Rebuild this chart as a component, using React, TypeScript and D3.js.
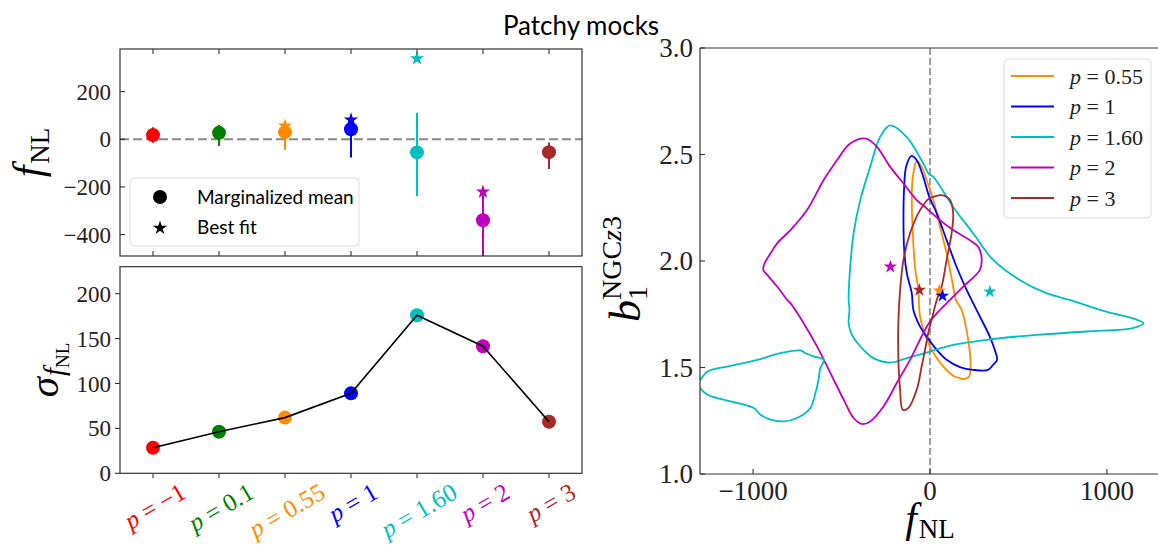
import React from 'react';
import * as d3 from 'd3';

// ---------- data ----------
const categories = ['−1', '0.1', '0.55', '1', '1.60', '2', '3'];
const catColors = ['#ff0000', '#008000', '#ff8c00', '#0000ff', '#00bfbf', '#bf00bf', '#a52a2a'];
const meanFNL = [18, 27, 30, 42, -55, -340, -54];
const bestFitFNL = [17, 27, 56, 82, 339, -221, -54];
const errLow = [-15, -28, -45, -76, -238, -495, -125];
const errHigh = [50, 61, 77, 100, 111, -207, -14];
const sigmaFNL = [28.5, 46.3, 62, 89, 176, 141.5, 57.4];

const topYTicks = [-400, -200, 0, 200];
const bottomYTicks = [0, 50, 100, 150, 200];
const rightXTicks = [-1000, 0, 1000];
const rightYTicks = [1.0, 1.5, 2.0, 2.5, 3.0];

const contourLabels = ['0.55', '1', '1.60', '2', '3'];
const contourColors = ['#ff8c00', '#0000ff', '#00bfbf', '#bf00bf', '#a52a2a'];

const contourP055: [number, number][] = [
  [-75, 2.469], [-47, 2.442], [-19, 2.38], [19, 2.286], [56, 2.161], [94, 2.036], [131, 1.88],
  [146, 1.817], [179, 1.77], [216, 1.63], [229, 1.521], [221, 1.458], [188, 1.446], [169, 1.45],
  [131, 1.461], [75, 1.505], [0, 1.598], [-56, 1.739], [-66, 1.864], [-85, 1.973], [-97, 2.13],
  [-103, 2.286], [-97, 2.395],
];
const contourP1: [number, number][] = [
  [-105, 2.493], [-75, 2.473], [-38, 2.395], [-4, 2.301], [38, 2.225], [94, 2.098], [150, 1.973],
  [207, 1.864], [282, 1.739], [338, 1.645], [366, 1.583], [379, 1.536], [357, 1.513], [328, 1.489],
  [244, 1.489], [169, 1.502], [94, 1.536], [38, 1.583], [-19, 1.645], [-56, 1.692], [-94, 1.77],
  [-103, 1.849], [-131, 1.942], [-146, 2.052], [-150, 2.208], [-146, 2.348], [-135, 2.442],
];
const contourP160: [number, number][] = [
  [-225, 2.637], [-131, 2.582], [-38, 2.458], [-6, 2.408], [19, 2.395], [131, 2.254], [244, 2.13],
  [357, 2.005], [507, 1.911], [657, 1.849], [789, 1.817], [996, 1.762], [1145, 1.731], [1206, 1.708],
  [1145, 1.685], [883, 1.669], [601, 1.653], [319, 1.63], [131, 1.606], [0, 1.575], [-131, 1.544],
  [-225, 1.523], [-319, 1.544], [-376, 1.583], [-441, 1.653], [-460, 1.708], [-455, 1.77],
  [-460, 1.817], [-451, 1.973], [-432, 2.13], [-394, 2.286], [-338, 2.442], [-282, 2.582],
];
const contourP160Lobe: [number, number][] = [
  [-1330, 1.405], [-1300, 1.44], [-1258, 1.481], [-1127, 1.508], [-976, 1.536], [-845, 1.567],
  [-732, 1.58], [-704, 1.567], [-657, 1.552], [-601, 1.536], [-610, 1.513], [-620, 1.497],
  [-629, 1.45], [-642, 1.396], [-648, 1.38], [-676, 1.31], [-751, 1.263], [-827, 1.247],
  [-901, 1.255], [-958, 1.278], [-996, 1.31], [-1127, 1.341], [-1258, 1.372], [-1300, 1.405],
];
const contourP2: [number, number][] = [
  [-361, 2.575], [-451, 2.552], [-526, 2.473], [-601, 2.38], [-695, 2.239], [-789, 2.145],
  [-864, 2.083], [-901, 2.036], [-935, 1.989], [-942, 1.958], [-920, 1.935], [-864, 1.88],
  [-807, 1.817], [-789, 1.802], [-714, 1.708], [-638, 1.598], [-563, 1.474], [-488, 1.349],
  [-432, 1.263], [-385, 1.235], [-338, 1.247], [-263, 1.317], [-188, 1.427], [-113, 1.536],
  [-38, 1.661], [0, 1.716], [56, 1.77], [113, 1.817], [188, 1.88], [282, 1.958], [291, 2.02],
  [272, 2.067], [225, 2.098], [131, 2.145], [56, 2.192], [-19, 2.247], [-75, 2.286], [-150, 2.364],
  [-225, 2.442], [-300, 2.536],
];
const contourP3: [number, number][] = [
  [66, 2.309], [113, 2.286], [131, 2.224], [122, 2.13], [94, 2.005], [66, 1.88], [38, 1.817],
  [19, 1.756], [-10, 1.662], [-28, 1.583], [-47, 1.505], [-75, 1.396], [-122, 1.31], [-154, 1.302],
  [-169, 1.396], [-179, 1.552], [-179, 1.708], [-169, 1.864], [-150, 2.005], [-113, 2.13],
  [-56, 2.239], [-4, 2.294], [19, 2.301],
];
const bestFitF = [53, 71, 338, -224, -60];
const bestFitB = [1.861, 1.836, 1.856, 1.973, 1.864];

// ---------- style ----------
const SERIF = "'Liberation Serif', 'DejaVu Serif', serif";
const SANS = "Lato, 'DejaVu Sans', sans-serif";
const AX = '#333';

function measure(text: string, font: string): number {
  try {
    const c = document.createElement('canvas').getContext('2d');
    if (c) {
      c.font = font;
      return c.measureText(text).width;
    }
  } catch (e) {}
  return text.length * 10;
}

export default function App() {
  const W = 1158, H = 545;
  // left panels
  const xL = d3.scaleLinear().domain([-0.5, 6.5]).range([120, 582]);
  const yTop = d3.scaleLinear().domain([-490, 379]).range([256, 49]);
  const yBot = d3.scaleLinear().domain([0, 230]).range([473.3, 266.7]);
  // right panel
  const xR = d3.scaleLinear().domain([-1300, 1300]).range([700, 1160]);
  const yR = d3.scaleLinear().domain([1, 3]).range([474, 48]);

  const idx = categories.map((_, i) => i);
  const star = (r: number) => d3.symbol().type(d3.symbolStar).size((r * r) / 0.8908130915292852)() as string;
  const circle = (r: number) => d3.symbol().type(d3.symbolCircle).size(Math.PI * r * r)() as string;

  const sigmaLine = d3.line<number>().x((i) => xL(i)).y((i) => yBot(sigmaFNL[i]))(idx) as string;

  const closedLine = d3
    .line<[number, number]>()
    .x((d) => xR(d[0]))
    .y((d) => yR(d[1]))
    .curve(d3.curveCatmullRomClosed.alpha(0.5));
  const openLine = d3
    .line<[number, number]>()
    .x((d) => xR(d[0]))
    .y((d) => yR(d[1]))
    .curve(d3.curveCatmullRom.alpha(0.5));

  const contours = [contourP055, contourP1, contourP160, contourP2, contourP3];

  const tickFontL = 23;
  const tickFontR = 27;
  const xLabFont = 25;

  const [t0, t1] = [yTop.range()[1], yTop.range()[0]];
  const [b0, b1] = [yBot.range()[1], yBot.range()[0]];
  const [r0, r1] = [yR.range()[1], yR.range()[0]];
  const lx0 = 120, lx1 = 582;

  return (
    <svg
      width={W}
      height={H}
      style={{ position: 'absolute', left: 0, top: 0, background: '#fff' }}
      xmlns="http://www.w3.org/2000/svg"
    >
      <defs>
        <clipPath id="clipTop">
          <rect x={lx0} y={t0} width={lx1 - lx0} height={t1 - t0} />
        </clipPath>
        <clipPath id="clipBot">
          <rect x={lx0} y={b0} width={lx1 - lx0} height={b1 - b0} />
        </clipPath>
        <clipPath id="clipR">
          <rect x={700} y={r0} width={460} height={r1 - r0} />
        </clipPath>
      </defs>
      <rect x={0} y={0} width={W} height={H} fill="#fff" />

      {/* Title */}
      <text x={581} y={35} textAnchor="middle" fontFamily={SANS} fontSize={26} fill="#000">
        Patchy mocks
      </text>

      {/* ================= TOP LEFT PANEL ================= */}
      <g clipPath="url(#clipTop)">
        <line x1={lx0} x2={lx1} y1={yTop(0)} y2={yTop(0)} stroke="#888" strokeWidth={2} strokeDasharray="9,4" />
        {idx.map((i) => (
          <line
            key={'eb' + i}
            x1={xL(i)}
            x2={xL(i)}
            y1={yTop(errLow[i])}
            y2={yTop(errHigh[i])}
            stroke={catColors[i]}
            strokeWidth={2}
          />
        ))}
        {idx.map((i) => (
          <path
            key={'bf' + i}
            d={star(7.5)}
            transform={`translate(${xL(i)},${yTop(bestFitFNL[i])})`}
            fill={catColors[i]}
          />
        ))}
        {idx.map((i) => (
          <path key={'mm' + i} d={circle(7)} transform={`translate(${xL(i)},${yTop(meanFNL[i])})`} fill={catColors[i]} />
        ))}
      </g>
      <rect x={lx0} y={t0} width={lx1 - lx0} height={t1 - t0} fill="none" stroke={AX} strokeWidth={1.2} />
      {topYTicks.map((v) => (
        <g key={'ty' + v}>
          <line x1={lx0} x2={lx0 + 5} y1={yTop(v)} y2={yTop(v)} stroke={AX} strokeWidth={1.1} />
          <text x={lx0 - 9} y={yTop(v)} dy="0.35em" textAnchor="end" fontFamily={SERIF} fontSize={tickFontL} fill="#222">
            {v < 0 ? '−' + Math.abs(v) : String(v)}
          </text>
        </g>
      ))}
      {idx.map((i) => (
        <g key={'tx' + i}>
          <line x1={xL(i)} x2={xL(i)} y1={t0} y2={t0 + 5} stroke={AX} strokeWidth={1.1} />
          <line x1={xL(i)} x2={xL(i)} y1={t1} y2={t1 - 5} stroke={AX} strokeWidth={1.1} />
        </g>
      ))}
      {/* legend */}
      <g>
        <rect x={130} y={178} width={229} height={68} rx={4} fill="#fff" fillOpacity={0.8} stroke="#ddd" strokeWidth={1} />
        <path d={circle(7)} transform="translate(160,197)" fill="#000" />
        <path d={star(7.5)} transform="translate(160,228)" fill="#000" />
        <text x={197} y={197} dy="0.35em" fontFamily={SANS} fontSize={19} fill="#000">
          Marginalized mean
        </text>
        <text x={197} y={227} dy="0.35em" fontFamily={SANS} fontSize={19} fill="#000">
          Best fit
        </text>
      </g>
      {/* y label f_NL */}
      <g transform={`translate(42,${(t0 + t1) / 2}) rotate(-90)`}>
        <text textAnchor="middle" fontFamily={SERIF} fill="#000">
          <tspan fontStyle="italic" fontSize={42}>f</tspan>
          <tspan fontSize={27} dy={7} dx={2}>NL</tspan>
        </text>
      </g>

      {/* ================= BOTTOM LEFT PANEL ================= */}
      {idx.map((i) => (
        <path key={'sd' + i} d={circle(7)} transform={`translate(${xL(i)},${yBot(sigmaFNL[i])})`} fill={catColors[i]} />
      ))}
      <g clipPath="url(#clipBot)">
        <path d={sigmaLine} fill="none" stroke="#000" strokeWidth={1.6} />
      </g>
      <rect x={lx0} y={b0} width={lx1 - lx0} height={b1 - b0} fill="none" stroke={AX} strokeWidth={1.2} />
      {bottomYTicks.map((v) => (
        <g key={'by' + v}>
          <line x1={lx0} x2={lx0 - 5} y1={yBot(v)} y2={yBot(v)} stroke={AX} strokeWidth={1.1} />
          <text x={lx0 - 9} y={yBot(v)} dy="0.35em" textAnchor="end" fontFamily={SERIF} fontSize={tickFontL} fill="#222">
            {String(v)}
          </text>
        </g>
      ))}
      {idx.map((i) => {
        const label = 'p = ' + categories[i];
        const L = measure(label, `${xLabFont}px 'Liberation Serif'`);
        const h = xLabFont * 0.8;
        const a = (30 * Math.PI) / 180;
        const bh = L * Math.sin(a) + h * Math.cos(a);
        const cy = b1 + 8 + bh / 2;
        return (
          <g key={'bx' + i}>
            <line x1={xL(i)} x2={xL(i)} y1={b1} y2={b1 + 5} stroke={AX} strokeWidth={1.1} />
            <text
              transform={`translate(${xL(i) + 2},${cy}) rotate(-30)`}
              textAnchor="middle"
              dy="0.33em"
              fontFamily={SERIF}
              fontSize={xLabFont}
              fill={catColors[i]}
            >
              <tspan fontStyle="italic">p</tspan>
              <tspan>{' = ' + categories[i]}</tspan>
            </text>
          </g>
        );
      })}
      {/* y label sigma_{f_NL} */}
      <g transform={`translate(58,${(b0 + b1) / 2}) rotate(-90)`}>
        <text textAnchor="middle" fontFamily={SERIF} fill="#000">
          <tspan fontStyle="italic" fontSize={41}>σ</tspan>
          <tspan fontStyle="italic" fontSize={29} dy={6} dx={1}>f</tspan>
          <tspan fontSize={19} dy={5}>NL</tspan>
        </text>
      </g>

      {/* ================= RIGHT PANEL ================= */}
      <g clipPath="url(#clipR)">
        <line x1={xR(0)} x2={xR(0)} y1={r0} y2={r1} stroke="#888" strokeWidth={1.6} strokeDasharray="7,3" />
        {contours.map((c, k) => (
          <path key={'ct' + k} d={closedLine(c) as string} fill="none" stroke={contourColors[k]} strokeWidth={1.8} />
        ))}
        <path d={openLine(contourP160Lobe) as string} fill="none" stroke={contourColors[2]} strokeWidth={1.8} />
        {bestFitF.map((f, k) => (
          <path key={'rs' + k} d={star(7)} transform={`translate(${xR(f)},${yR(bestFitB[k])})`} fill={contourColors[k]} />
        ))}
      </g>
      <line x1={700} x2={1160} y1={r0} y2={r0} stroke={AX} strokeWidth={1.2} />
      <line x1={700} x2={1160} y1={r1} y2={r1} stroke={AX} strokeWidth={1.2} />
      <line x1={700} x2={700} y1={r0} y2={r1} stroke={AX} strokeWidth={1.2} />
      {rightYTicks.map((v) => (
        <g key={'ry' + v}>
          <line x1={700} x2={705} y1={yR(v)} y2={yR(v)} stroke={AX} strokeWidth={1.1} />
          <text x={693} y={yR(v)} dy="0.35em" textAnchor="end" fontFamily={SERIF} fontSize={tickFontR} fill="#222">
            {v.toFixed(1)}
          </text>
        </g>
      ))}
      {rightXTicks.map((v) => (
        <g key={'rx' + v}>
          <line x1={xR(v)} x2={xR(v)} y1={r1} y2={r1 - 5} stroke={AX} strokeWidth={1.1} />
          <text x={xR(v)} y={r1 + 26} textAnchor="middle" fontFamily={SERIF} fontSize={tickFontR} fill="#222">
            {v < 0 ? '−' + Math.abs(v) : String(v)}
          </text>
        </g>
      ))}
      {/* legend */}
      <g>
        <rect x={1004} y={59} width={147} height={159} rx={4} fill="#fff" fillOpacity={0.8} stroke="#ddd" strokeWidth={1} />
        {contourLabels.map((lab, k) => {
          const y = 76 + k * 30.5;
          return (
            <g key={'lg' + k}>
              <line x1={1011} x2={1054} y1={y} y2={y} stroke={contourColors[k]} strokeWidth={2} />
              <text x={1070} y={y} dy="0.35em" fontFamily={SERIF} fontSize={22} fill="#222">
                <tspan fontStyle="italic">p</tspan>
                <tspan>{' = ' + lab}</tspan>
              </text>
            </g>
          );
        })}
      </g>
      {/* x label */}
      <text x={930} y={532} textAnchor="middle" fontFamily={SERIF} fill="#000">
        <tspan fontStyle="italic" fontSize={42}>f</tspan>
        <tspan fontSize={27} dy={6} dx={2}>NL</tspan>
      </text>
      {/* y label b_1^{NGCz3} */}
      <g transform={`translate(640,322) rotate(-90)`}>
        <text fontFamily={SERIF} fill="#000">
          <tspan fontStyle="italic" fontSize={44}>b</tspan>
          <tspan fontSize={28} dy={7}>1</tspan>
          <tspan fontSize={28} dx={-14} dy={-26}>NGC</tspan>
          <tspan fontSize={28} fontStyle="italic">z</tspan>
          <tspan fontSize={28}>3</tspan>
        </text>
      </g>
    </svg>
  );
}
